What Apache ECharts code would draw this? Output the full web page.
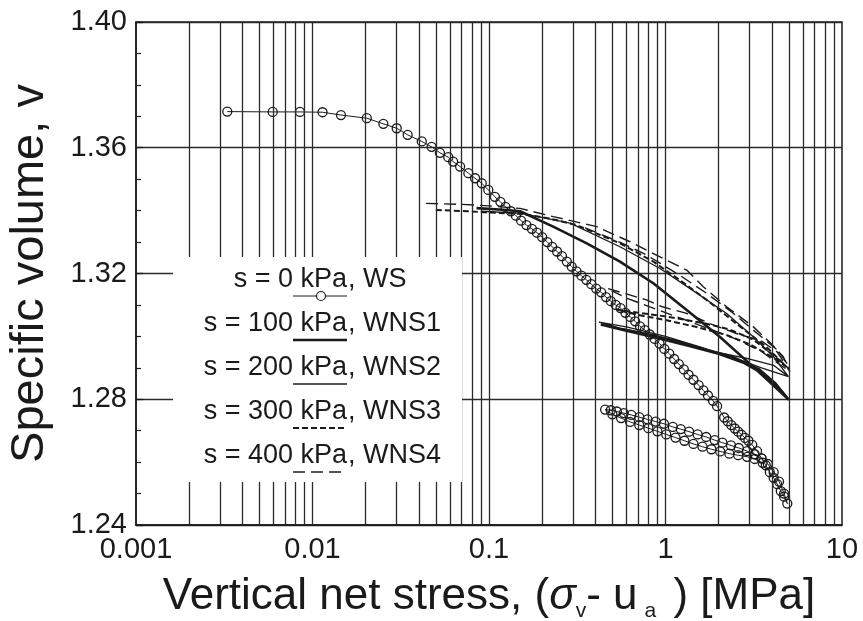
<!DOCTYPE html>
<html>
<head>
<meta charset="utf-8">
<script src="https://cdn.jsdelivr.net/npm/echarts@6/dist/echarts.min.js"></script>
<style>
  html, body { margin: 0; padding: 0; background: #fff; }
  #chart { width: 863px; height: 621px; }
</style>
</head>
<body>
<div id="chart"></div>
<script>
// vertical grid lines of the log axis (every 1..9 x 10^k)
const gridStress = [
  0.002, 0.003, 0.004, 0.005, 0.006, 0.007, 0.008, 0.009, 0.01,
  0.02, 0.03, 0.04, 0.05, 0.06, 0.07, 0.08, 0.09, 0.1,
  0.2, 0.3, 0.4, 0.5, 0.6, 0.7, 0.8, 0.9, 1,
  2, 3, 4, 5, 6, 7, 8, 9
];

// s = 0 kPa (WS): [stress MPa, specific volume]
const ws = [
  [0.00329, 1.3715], [0.00595, 1.3714], [0.00849, 1.3714], [0.0114, 1.3713], [0.0145, 1.3704],
  [0.0203, 1.3694], [0.0252, 1.3676], [0.0300, 1.3662], [0.0346, 1.3641], [0.0416, 1.3620],
  [0.0473, 1.3603], [0.0527, 1.3584], [0.0588, 1.3570], [0.0626, 1.3556], [0.0686, 1.3540],
  [0.0764, 1.3519], [0.0834, 1.3503], [0.0910, 1.3487], [0.0991, 1.3466], [0.108, 1.3444],
  [0.116, 1.3428], [0.124, 1.3412], [0.133, 1.3398], [0.142, 1.3384], [0.152, 1.3368],
  [0.163, 1.3354], [0.175, 1.3342], [0.187, 1.3330], [0.200, 1.3316], [0.214, 1.3300],
  [0.228, 1.3285], [0.243, 1.3270], [0.259, 1.3255], [0.276, 1.3238], [0.294, 1.3222],
  [0.313, 1.3207], [0.334, 1.3193], [0.356, 1.3180], [0.380, 1.3166], [0.405, 1.3152],
  [0.432, 1.3140], [0.460, 1.3125], [0.490, 1.3112], [0.522, 1.3100], [0.556, 1.3090],
  [0.593, 1.3075], [0.632, 1.3062], [0.673, 1.3048], [0.717, 1.3032], [0.764, 1.3020],
  [0.814, 1.3006], [0.868, 1.2992], [0.925, 1.2977], [0.985, 1.2960], [1.05, 1.2945],
  [1.12, 1.2928], [1.19, 1.2912], [1.27, 1.2895], [1.35, 1.2878], [1.44, 1.2862],
  [1.54, 1.2845], [1.64, 1.2828], [1.74, 1.2812], [1.86, 1.2795], [1.96, 1.2778],
  [2.15, 1.2742], [2.25, 1.2730], [2.36, 1.2718], [2.47, 1.2707], [2.58, 1.2697],
  [2.70, 1.2687], [2.82, 1.2677], [2.95, 1.2668], [3.10, 1.2655], [3.30, 1.2635],
  [3.50, 1.2612], [3.70, 1.2590], [3.90, 1.2568], [4.10, 1.2550], [4.30, 1.2530],
  [4.50, 1.2508], [4.70, 1.2490], [4.90, 1.2468],
  // unloading
  [4.70, 1.2500], [4.40, 1.2538], [4.10, 1.2568], [3.80, 1.2594], [3.50, 1.2612],
  [3.20, 1.2625], [2.90, 1.2635], [2.60, 1.2645], [2.35, 1.2653], [2.10, 1.2662],
  [1.90, 1.2670], [1.70, 1.2680], [1.52, 1.2688], [1.36, 1.2697], [1.22, 1.2705],
  [1.10, 1.2712], [0.98, 1.2722], [0.88, 1.2729], [0.79, 1.2736], [0.71, 1.2743],
  [0.64, 1.2750], [0.58, 1.2756], [0.53, 1.2761], [0.49, 1.2765], [0.455, 1.2767],
  // reloading
  [0.50, 1.2752], [0.56, 1.2740], [0.63, 1.2728], [0.71, 1.2718], [0.80, 1.2708],
  [0.90, 1.2698], [1.01, 1.2688], [1.14, 1.2678], [1.28, 1.2668], [1.44, 1.2658],
  [1.62, 1.2649], [1.82, 1.2641], [2.04, 1.2634], [2.30, 1.2627], [2.58, 1.2622],
  [2.90, 1.2617], [3.20, 1.2610], [3.55, 1.2598]
];

// s = 100 kPa (WNS1)
const wns1 = [
  [0.085, 1.3408], [0.12, 1.3403], [0.15, 1.3398], [0.231, 1.3349], [0.358, 1.3296],
  [0.552, 1.3238], [0.853, 1.3169], [1.318, 1.3084], [2.03, 1.2999], [3.14, 1.2903], [5.0, 1.2798],
  [4.2, 1.2850], [3.4, 1.2895], [2.4, 1.2935], [1.71, 1.2957], [1.2, 1.2982], [0.8, 1.3006],
  [0.55, 1.3024], [0.43, 1.3038],
  [0.6, 1.3018], [0.9, 1.2995], [1.4, 1.2968], [2.0, 1.2945], [2.8, 1.2915], [3.6, 1.2880],
  [4.3, 1.2840], [5.0, 1.2798]
];

// s = 200 kPa (WNS2)
const wns2 = [
  [0.09, 1.3398], [0.15, 1.3392], [0.288, 1.3360], [0.552, 1.3285], [0.931, 1.3216],
  [1.42, 1.3147], [2.22, 1.3073], [3.14, 1.2999], [4.1, 1.2935], [4.97, 1.2872],
  [4.1, 1.2908], [3.0, 1.2928], [2.0, 1.2948], [1.3, 1.2978], [0.8, 1.3008], [0.55, 1.3026],
  [0.42, 1.3045],
  [0.6, 1.3030], [1.0, 1.3000], [1.6, 1.2965], [2.5, 1.2930], [3.5, 1.2900], [4.97, 1.2872]
];

// s = 300 kPa (WNS3)
const wns3 = [
  [0.05, 1.3402], [0.075, 1.3398], [0.10, 1.3394], [0.15, 1.3390], [0.22, 1.3375],
  [0.314, 1.3354], [0.552, 1.3296], [0.853, 1.3238], [1.206, 1.3179], [1.71, 1.3116],
  [2.5, 1.3042], [3.72, 1.2967], [4.85, 1.2903],
  [4.2, 1.2935], [3.14, 1.2990], [2.3, 1.3022], [1.71, 1.3040], [1.2, 1.3056], [0.93, 1.3066],
  [0.69, 1.3076], [0.53, 1.3085],
  [0.7, 1.3068], [1.0, 1.3052], [1.5, 1.3030], [2.2, 1.3005], [3.0, 1.2975], [4.0, 1.2935],
  [4.85, 1.2903]
];

// s = 400 kPa (WNS4)
const wns4 = [
  [0.044, 1.3423], [0.07, 1.3420], [0.10, 1.3415], [0.15, 1.3407], [0.231, 1.3381],
  [0.408, 1.3349], [0.629, 1.3301], [0.931, 1.3253], [1.318, 1.3211], [1.637, 1.3158],
  [2.22, 1.3094], [3.14, 1.3031], [4.0, 1.2975], [4.65, 1.2935], [5.07, 1.2888],
  [4.3, 1.2950], [3.5, 1.2985], [2.5, 1.3010], [1.8, 1.3040], [1.318, 1.3073], [0.95, 1.3095],
  [0.78, 1.3116], [0.60, 1.3135], [0.465, 1.3153],
  [0.6, 1.3122], [0.9, 1.3085], [1.3, 1.3052], [1.8, 1.3022], [2.5, 1.2992], [3.5, 1.2952],
  [4.5, 1.2908], [5.07, 1.2888]
];
const wns4b = [
  [0.35, 1.3345], [0.55, 1.3300], [0.78, 1.3259], [1.2, 1.3195], [1.71, 1.3137],
  [2.4, 1.3075], [3.14, 1.3020], [4.3, 1.2957], [5.0, 1.2905]
];

const legendLeft = ['s = 0 kPa', 's = 100 kPa', 's = 200 kPa', 's = 300 kPa', 's = 400 kPa'];
const legendRight = [', WS', ', WNS1', ', WNS2', ', WNS3', ', WNS4'];

const FONT = "'Liberation Sans', Arial, sans-serif";
const INK = '#1a1a1a';

const lineStyles = [
  { width: 1, type: 'solid' },
  { width: 2.6, type: 'solid' },
  { width: 1.3, type: 'solid' },
  { width: 2, type: [6, 3] },
  { width: 1.4, type: [12, 6] }
];

const chart = echarts.init(document.getElementById('chart'));

// legend drawn as a white box over the grid
const rowY = [280, 324, 368, 412, 456];
const legendGraphic = [{
  type: 'rect', z: 100,
  shape: { x: 173, y: 257, width: 289, height: 225 },
  style: { fill: '#fff' }
}];
rowY.forEach((y, i) => {
  legendGraphic.push({
    type: 'text', z: 101, x: 347, y: y,
    style: { text: legendLeft[i], fontSize: 27, fontFamily: FONT, fill: INK, align: 'right', verticalAlign: 'middle' }
  });
  legendGraphic.push({
    type: 'text', z: 101, x: 348, y: y,
    style: { text: legendRight[i], fontSize: 27, fontFamily: FONT, fill: INK, align: 'left', verticalAlign: 'middle' }
  });
  const ls = lineStyles[i];
  legendGraphic.push({
    type: 'line', z: 101,
    shape: { x1: 293, y1: y + 16, x2: 347, y2: y + 16 },
    style: { stroke: INK, lineWidth: ls.width, lineDash: ls.type === 'solid' ? null : ls.type }
  });
});
legendGraphic.push({
  type: 'circle', z: 102,
  shape: { cx: 321, cy: rowY[0] + 16, r: 4.5 },
  style: { fill: '#fff', stroke: INK, lineWidth: 1.2 }
});

const curve = (data, i) => ({
  type: 'line',
  data: data,
  showSymbol: false,
  z: 3,
  lineStyle: { color: INK, width: lineStyles[i].width, type: lineStyles[i].type }
});

const option = {
  animation: false,
  backgroundColor: '#fff',
  grid: {
    left: 136, right: 21, top: 22, bottom: 96,
    show: true, borderColor: INK, borderWidth: 1.5,
    outerBoundsMode: 'none'
  },
  xAxis: {
    type: 'log',
    logBase: 10,
    min: 0.001,
    max: 10,
    axisLine: { show: true, onZero: false, lineStyle: { color: INK, width: 1.5 } },
    axisTick: { show: false },
    splitLine: { show: false },
    axisLabel: {
      fontSize: 29, fontFamily: FONT, color: INK, margin: 10,
      formatter: v => String(parseFloat(v.toPrecision(6)))
    },
    name: 'Vertical net stress, ({it|σ}{sub|v}- u{sub2|a} ) [MPa]',
    nameLocation: 'middle',
    nameGap: 47,
    nameTextStyle: {
      fontSize: 44, fontFamily: FONT, color: INK, lineHeight: 50,
      rich: {
        it: { fontSize: 44, fontFamily: FONT, fontStyle: 'italic', color: INK, lineHeight: 50 },
        sub: { fontSize: 21, fontFamily: FONT, color: INK, verticalAlign: 'bottom', lineHeight: 30 },
        sub2: { fontSize: 21, fontFamily: FONT, color: INK, verticalAlign: 'bottom', lineHeight: 20, padding: [0, 5, 0, 7] }
      }
    }
  },
  yAxis: {
    type: 'value',
    min: 1.24,
    max: 1.40,
    interval: 0.04,
    axisLine: { show: true, onZero: false, lineStyle: { color: INK, width: 1.5 } },
    axisTick: { show: true, inside: true, length: 7, lineStyle: { color: INK, width: 1.3 } },
    minorTick: { show: true, splitNumber: 4, length: 5, lineStyle: { color: INK, width: 1.2 } },
    splitLine: { show: true, lineStyle: { color: '#2a2a2a', width: 1.3 } },
    axisLabel: {
      fontSize: 29, fontFamily: FONT, color: INK, margin: 9,
      formatter: v => v.toFixed(2)
    },
    name: 'Specific volume, v',
    nameLocation: 'middle',
    nameGap: 82,
    nameTextStyle: { fontSize: 47, fontFamily: FONT, color: INK }
  },
  graphic: legendGraphic,
  series: [
    {
      type: 'line',
      data: [],
      silent: true,
      z: 1,
      markLine: {
        silent: true,
        precision: 6,
        symbol: ['none', 'none'],
        label: { show: false },
        lineStyle: { color: '#2a2a2a', width: 1.3, type: 'solid' },
        data: gridStress.map(x => ({ xAxis: x }))
      }
    },
    curve(wns1, 1),
    curve(wns2, 2),
    curve(wns3, 3),
    curve(wns4, 4),
    curve(wns4b, 4),
    {
      type: 'line',
      data: ws,
      z: 4,
      symbol: 'circle',
      symbolSize: 9,
      showSymbol: true,
      lineStyle: { color: INK, width: 1 },
      itemStyle: { color: 'rgba(255,255,255,0)', borderColor: INK, borderWidth: 1.3 }
    }
  ]
};

chart.setOption(option);
</script>
</body>
</html>
